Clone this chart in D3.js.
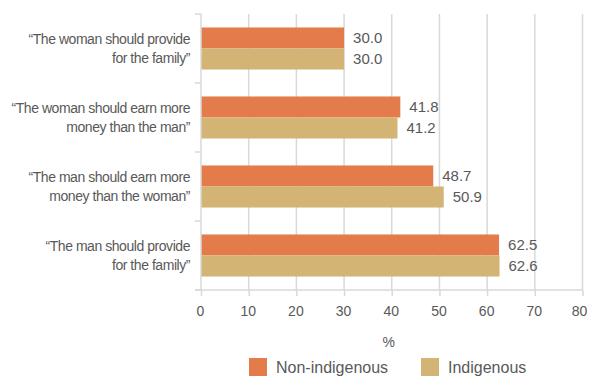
<!DOCTYPE html>
<html>
<head>
<meta charset="utf-8">
<script src="https://cdn.jsdelivr.net/npm/d3@7"></script>
<style>
  html, body { margin: 0; padding: 0; background: #fff; }
  svg { display: block; font-family: "Liberation Sans", Arial, sans-serif; }
</style>
</head>
<body>
<svg id="chart" width="589" height="377"></svg>
<script>
// Survey statements (each drawn on two lines)
const categories = [
  ["\u201cThe woman should provide", "for the family\u201d"],
  ["\u201cThe woman should earn more", "money than the man\u201d"],
  ["\u201cThe man should earn more", "money than the woman\u201d"],
  ["\u201cThe man should provide", "for the family\u201d"]
];
const seriesNames = ["Non-indigenous", "Indigenous"];
const nonIndigenous = [30.0, 41.8, 48.7, 62.5];
const indigenous = [30.0, 41.2, 50.9, 62.6];
const xTicks = [0, 10, 20, 30, 40, 50, 60, 70, 80];
const xTitle = "%";

const colors = ["#E37B4A", "#D3B474"];
const textColor = "#595959";
const gridColor = "#D9D9D9";

const svg = d3.select("#chart");
const margin = { top: 14, right: 6, bottom: 87, left: 201 };
const W = 589, H = 377;
const innerW = W - margin.left - margin.right;
const innerH = H - margin.top - margin.bottom;

const g = svg.append("g").attr("transform", `translate(${margin.left},${margin.top})`);

const x = d3.scaleLinear().domain([0, 80]).range([0, innerW - 0.5]);
const y = d3.scaleBand().domain(d3.range(categories.length)).range([0, innerH]);
// two bars per statement, ~21px each, centred in the band
const inner = d3.scaleBand().domain([0, 1]).range([0, y.bandwidth()]).paddingOuter(0.64).paddingInner(0);

// vertical gridlines
g.append("g").selectAll("line").data(xTicks.slice(1)).join("line")
  .attr("x1", d => x(d)).attr("x2", d => x(d))
  .attr("y1", 0).attr("y2", innerH)
  .attr("stroke", gridColor).attr("stroke-width", 1.5);

// bars
const data = categories.map((c, i) => ({ i, values: [nonIndigenous[i], indigenous[i]] }));
const groups = g.append("g").selectAll("g").data(data).join("g")
  .attr("transform", d => `translate(0,${y(d.i)})`);

groups.selectAll("rect").data(d => d.values.map((v, s) => ({ v, s }))).join("rect")
  .attr("x", 0)
  .attr("y", d => inner(d.s))
  .attr("width", d => x(d.v))
  .attr("height", inner.bandwidth())
  .attr("fill", d => colors[d.s]);

groups.selectAll("text.val").data(d => d.values.map((v, s) => ({ v, s }))).join("text")
  .attr("class", "val")
  .attr("x", d => x(d.v) + 9)
  .attr("y", d => inner(d.s) + inner.bandwidth() / 2)
  .attr("dy", "0.35em")
  .attr("fill", textColor)
  .style("font-size", "15px")
  .text(d => d.v.toFixed(1));

// x axis
const xAxis = g.append("g").attr("transform", `translate(0,${innerH})`)
  .call(d3.axisBottom(x).tickValues(xTicks).tickSize(6).tickPadding(10).tickSizeOuter(0));
xAxis.select(".domain").remove();
xAxis.selectAll(".tick line").attr("stroke", gridColor).attr("stroke-width", 1.5);
xAxis.selectAll(".tick text").attr("fill", textColor).style("font-size", "14px")
  .style("font-family", "'Liberation Sans', Arial, sans-serif")
  .attr("dx", d => (d === 80 ? -3.5 : -1));
g.append("line").attr("x1", -6).attr("x2", innerW - 0.5).attr("y1", innerH).attr("y2", innerH)
  .attr("stroke", gridColor).attr("stroke-width", 1.5);

// y axis: line with ticks at category boundaries
g.append("line").attr("x1", 0).attr("x2", 0).attr("y1", 0).attr("y2", innerH)
  .attr("stroke", gridColor).attr("stroke-width", 1.5);
g.append("g").selectAll("line").data(d3.range(categories.length + 1)).join("line")
  .attr("x1", -6).attr("x2", 0)
  .attr("y1", d => d * y.step()).attr("y2", d => d * y.step())
  .attr("stroke", gridColor).attr("stroke-width", 1.5);

// category labels
const catLabels = g.append("g").selectAll("text").data(categories).join("text")
  .attr("text-anchor", "end")
  .attr("fill", textColor)
  .style("font-size", "14px")
  .style("letter-spacing", "-0.45px")
  .attr("transform", (d, i) => `translate(-11,${y(i) + y.bandwidth() / 2})`);
catLabels.selectAll("tspan").data(d => d).join("tspan")
  .attr("x", 0)
  .attr("y", (d, j) => (j === 0 ? -9.5 : 9.5))
  .attr("dy", "0.35em")
  .text(d => d);

// axis title
svg.append("text")
  .attr("x", margin.left + x(40) - 3)
  .attr("y", 342)
  .attr("dy", "0.35em")
  .attr("text-anchor", "middle")
  .attr("fill", textColor)
  .style("font-size", "14px")
  .text(xTitle);

// legend
const legendX = [249, 421];
const legend = svg.append("g").selectAll("g").data(seriesNames).join("g")
  .attr("transform", (d, i) => `translate(${legendX[i]},358)`);
legend.append("rect").attr("width", 18).attr("height", 18).attr("fill", (d, i) => colors[i]);
legend.append("text").attr("x", 27).attr("y", 9.5).attr("dy", "0.35em")
  .attr("fill", textColor).style("font-size", "16px").text(d => d);
</script>
</body>
</html>
